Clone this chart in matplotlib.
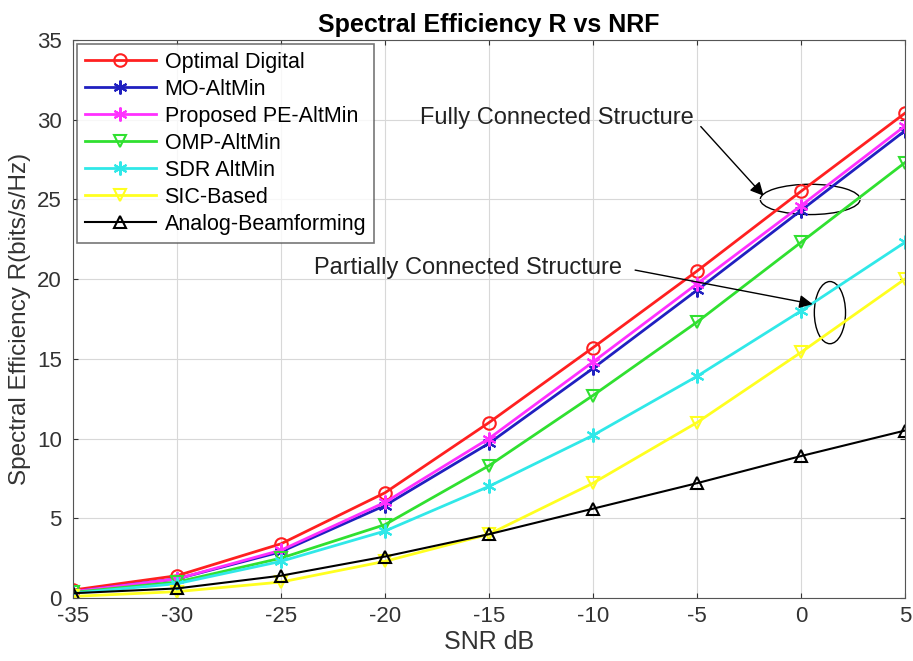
import matplotlib
matplotlib.use("Agg")
import matplotlib.pyplot as plt
from matplotlib.patches import Ellipse

snr = [-35, -30, -25, -20, -15, -10, -5, 0, 5]

optimal = [0.5, 1.4, 3.4, 6.6, 11.0, 15.7, 20.5, 25.5, 30.4]
mo_altmin = [0.4, 1.2, 2.9, 5.8, 9.7, 14.4, 19.3, 24.3, 29.3]
pe_altmin = [0.4, 1.2, 3.0, 6.0, 10.0, 14.8, 19.7, 24.6, 29.6]
omp_altmin = [0.35, 1.0, 2.5, 4.6, 8.3, 12.7, 17.3, 22.3, 27.3]
sdr_altmin = [0.3, 0.9, 2.3, 4.2, 7.0, 10.2, 13.9, 18.0, 22.3]
sic_based = [0.1, 0.4, 1.0, 2.3, 4.0, 7.2, 11.0, 15.4, 20.0]
analog = [0.3, 0.6, 1.4, 2.6, 4.0, 5.6, 7.2, 8.9, 10.5]

plt.rcParams["font.family"] = ["Liberation Sans", "DejaVu Sans"]
plt.rcParams["axes.unicode_minus"] = False

ast = (6, 2, 0)  # asterisk marker like matlab '*'

fig = plt.figure(figsize=(9.13, 6.61), dpi=100)
ax = fig.add_axes([0.08, 0.0953, 0.911, 0.8442])

ax.plot(snr, optimal, "-o", color="#ff2020", lw=2, ms=9, mfc="none", mew=1.5, label="Optimal Digital")
ax.plot(snr, mo_altmin, "-", marker=ast, color="#2020c0", lw=2, ms=10, mew=1.5, label="MO-AltMin")
ax.plot(snr, pe_altmin, "-", marker=ast, color="#ff30ff", lw=2, ms=10, mew=1.5, label="Proposed PE-AltMin")
ax.plot(snr, omp_altmin, "-v", color="#30e030", lw=2, ms=9, mfc="none", mew=1.5, label="OMP-AltMin")
ax.plot(snr, sdr_altmin, "-", marker=ast, color="#30e8e8", lw=2, ms=10, mew=1.5, label="SDR AltMin")
ax.plot(snr, sic_based, "-v", color="#ffff20", lw=2, ms=9, mfc="none", mew=1.5, label="SIC-Based")
ax.plot(snr, analog, "-^", color="black", lw=1.5, ms=9, mfc="none", mew=1.5, label="Analog-Beamforming")

ax.set_xlim(-35, 5)
ax.set_ylim(0, 35)
ax.set_xticks(snr)
ax.set_yticks(range(0, 36, 5))
ax.grid(True, color="#d8d8d8", lw=0.8)
for s in ax.spines.values():
    s.set_color("#555555")
ax.tick_params(labelsize=16, direction="in", colors="#333333", top=True, right=True)
ax.tick_params(axis="y", pad=8)
ax.tick_params(axis="x", pad=6)

ax.set_xlabel("SNR dB", fontsize=18, color="#333333", labelpad=2)
ax.set_ylabel("Spectral Efficiency R(bits/s/Hz)", fontsize=17.5, color="#333333", labelpad=4)
ax.set_title("Spectral Efficiency R vs NRF", fontsize=18, fontweight="bold", pad=6)

leg = ax.legend(loc="upper left", fontsize=15.5, handlelength=3.3, handletextpad=0.4,
                borderaxespad=0.2, fancybox=False, edgecolor="#555555",
                labelspacing=0.28, borderpad=0.35)
leg.get_frame().set_linewidth(1.2)

ax.add_patch(Ellipse((0.45, 25.0), 4.8, 1.9, fill=False, color="black", lw=1))
ax.add_patch(Ellipse((1.4, 17.9), 1.5, 3.9, fill=False, color="black", lw=1))

ax.annotate("", xy=(-1.7, 25.1), xytext=(-4.9, 29.7),
            arrowprops=dict(arrowstyle="-|>", color="black", lw=1, mutation_scale=20))
ax.text(-18.3, 30.1, "Fully Connected Structure", fontsize=17, va="center", color="#222222")
ax.annotate("", xy=(0.7, 18.4), xytext=(-8.1, 20.6),
            arrowprops=dict(arrowstyle="-|>", color="black", lw=1, mutation_scale=20))
ax.text(-23.4, 20.7, "Partially Connected Structure", fontsize=17, va="center", color="#222222")

fig.savefig("out.png", dpi=100)
